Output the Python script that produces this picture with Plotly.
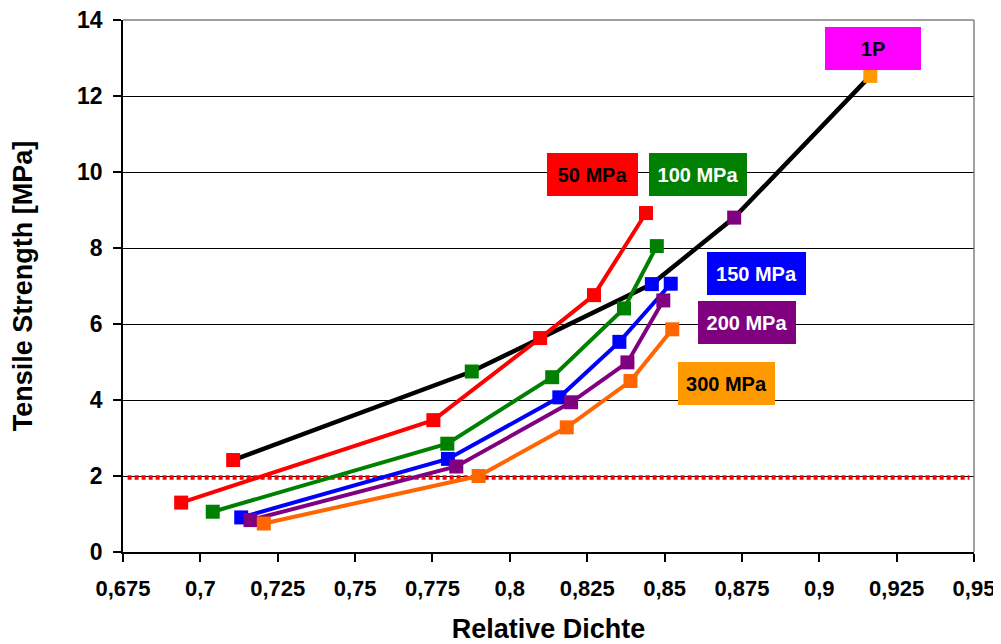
import plotly.graph_objects as go

# ---- data ----
x_1p = [0.7106, 0.7877, 0.8459, 0.8725, 0.9165]
y_1p = [2.42, 4.75, 7.05, 8.80, 12.53]
c_1p = ["#FF0000", "#008000", "#0000FF", "#800080", "#FF9900"]

x_50 = [0.6938, 0.7753, 0.8098, 0.8272, 0.8440]
y_50 = [1.30, 3.47, 5.63, 6.76, 8.92]

x_100 = [0.7040, 0.7798, 0.8137, 0.8369, 0.8475]
y_100 = [1.06, 2.85, 4.60, 6.41, 8.05]

x_150 = [0.7132, 0.7800, 0.8160, 0.8354, 0.8520]
y_150 = [0.91, 2.45, 4.07, 5.53, 7.06]

x_200 = [0.7162, 0.7827, 0.8198, 0.8380, 0.8496]
y_200 = [0.84, 2.25, 3.94, 4.99, 6.62]

x_300 = [0.7205, 0.7899, 0.8184, 0.8390, 0.8525]
y_300 = [0.75, 2.00, 3.28, 4.50, 5.86]

thresh_x = [0.6765, 0.9485]
thresh_y = [1.96, 1.96]

x_ticks = [0.675, 0.7, 0.725, 0.75, 0.775, 0.8, 0.825, 0.85, 0.875, 0.9, 0.925, 0.95]
x_ticktext = ["0,675", "0,7", "0,725", "0,75", "0,775", "0,8", "0,825", "0,85",
              "0,875", "0,9", "0,925", "0,95"]
y_ticks = [0, 2, 4, 6, 8, 10, 12, 14]
y_ticktext = ["0", "2", "4", "6", "8", "10", "12", "14"]

FONT = "Liberation Sans, Arial, sans-serif"

fig = go.Figure()

fig.add_trace(go.Scatter(x=thresh_x, y=thresh_y, mode="lines",
                         line=dict(color="#FF0000", width=4.5, dash="4px,3px"),
                         showlegend=False, hoverinfo="skip"))

fig.add_trace(go.Scatter(x=x_1p, y=y_1p, mode="lines+markers",
                         line=dict(color="black", width=4.5),
                         marker=dict(symbol="square", size=14, color=c_1p, line=dict(width=0)),
                         showlegend=False))

series = [
    (x_50, y_50, "#FF0000"),
    (x_100, y_100, "#008000"),
    (x_150, y_150, "#0000FF"),
    (x_200, y_200, "#800080"),
    (x_300, y_300, "#FF6600"),
]
for xs, ys, col in series:
    fig.add_trace(go.Scatter(x=xs, y=ys, mode="lines+markers",
                             line=dict(color=col, width=4),
                             marker=dict(symbol="square", size=14, color=col, line=dict(width=0)),
                             showlegend=False))

labels = [
    ("50 MPa", 0.8266, 9.94, 91, "#FF0000", "black"),
    ("100 MPa", 0.8607, 9.94, 98, "#008000", "white"),
    ("150 MPa", 0.8796, 7.33, 99, "#0000FF", "white"),
    ("200 MPa", 0.8767, 6.03, 98, "#800080", "white"),
    ("300 MPa", 0.8701, 4.44, 97, "#FF9900", "black"),
    ("1P", 0.9173, 13.25, 96, "#FF00FF", "black"),
]
for txt, ax, ay, w, bg, fc in labels:
    fig.add_annotation(x=ax, y=ay, xref="x", yref="y", text="<b>%s</b>" % txt,
                       showarrow=False, xanchor="center", yanchor="middle",
                       width=w, height=43, bgcolor=bg, borderpad=0, borderwidth=0,
                       font=dict(family=FONT, size=20, color=fc))

# gray top and right frame
fig.add_shape(type="line", xref="paper", yref="paper", x0=0, x1=1, y0=1, y1=1,
              line=dict(color="#808080", width=1.5))
fig.add_shape(type="line", xref="paper", yref="paper", x0=1, x1=1, y0=0, y1=1,
              line=dict(color="#808080", width=1.5))

fig.update_layout(
    width=993, height=636,
    margin=dict(l=114.5, r=26.5, t=11.5, b=92),
    paper_bgcolor="white", plot_bgcolor="white",
    font=dict(family=FONT, color="black"),
    showlegend=False,
    xaxis=dict(range=[0.675, 0.95], tickvals=x_ticks,
               ticktext=["<b>%s</b>" % t for t in x_ticktext],
               showgrid=False, zeroline=False, showline=True, linecolor="black", linewidth=1.5,
               ticks="outside", ticklen=8, tickcolor="black", tickwidth=1.5,
               tickfont=dict(family=FONT, size=22, color="black"),
               ticklabelstandoff=8, ticklabeloverflow="allow",
               title=dict(text="<b>Relative Dichte</b>", font=dict(family=FONT, size=27, color="black"),
                          standoff=21),
               automargin=False),
    yaxis=dict(range=[0, 14], tickvals=y_ticks,
               ticktext=["<b>%s</b>" % t for t in y_ticktext],
               showgrid=True, gridcolor="black", gridwidth=1,
               zeroline=False, showline=True, linecolor="black", linewidth=1.5,
               ticks="outside", ticklen=8, tickcolor="black", tickwidth=1.5,
               tickfont=dict(family=FONT, size=23, color="black"),
               ticklabelstandoff=6, ticklabeloverflow="allow",
               title=dict(text="<b>Tensile Strength [MPa]</b>", font=dict(family=FONT, size=27, color="black"),
                          standoff=38),
               automargin=False),
)

fig.write_html("out.html")
